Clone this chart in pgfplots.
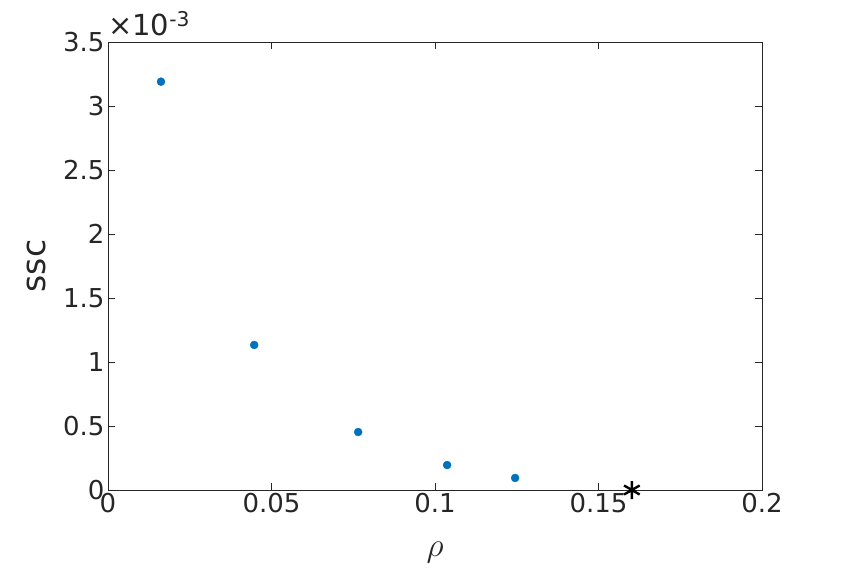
\documentclass[border=0pt]{standalone}
\usepackage{graphicx}
\usepackage{pgfplots}
\pgfplotsset{compat=1.18}
\usepackage{fontspec}
\setmainfont{DejaVu Sans}
\definecolor{mblue}{RGB}{0,114,189}
\definecolor{mgray}{RGB}{38,38,38}
\begin{document}
\begin{tikzpicture}[x=1pt,y=1pt]
\begin{axis}[
  scale only axis,
  width=654pt, height=448pt,
  xmin=0, xmax=0.2, ymin=0, ymax=3.5,
  xtick={0,0.05,0.1,0.15,0.2},
  xticklabels={0,0.05,0.1,0.15,0.2},
  ytick={0,0.5,1,1.5,2,2.5,3,3.5},
  yticklabels={0,0.5,1,1.5,2,2.5,3,3.5},
  tick align=inside,
  major tick length=7pt,
  axis line style={mgray, line width=0.6pt},
  every tick/.style={mgray, line width=0.6pt},
  tick label style={font=\fontsize{26}{30}\selectfont, text=mgray},
  xlabel={\scalebox{1.35}{$\rho$}},
  ylabel={ssc},
  label style={font=\fontsize{33}{36}\selectfont, text=mgray},
  xlabel style={at={(rel axis cs:0.5,0)}, anchor=center, yshift=-63pt},
  ylabel style={at={(rel axis cs:0,0.5)}, anchor=center, yshift=72pt},
  /pgf/number format/assume math mode=true,
  clip=false,
]
\addplot[only marks, mark=*, mark size=4pt, color=mblue] coordinates {
  (0.0162,3.19) (0.0447,1.133) (0.0765,0.453) (0.1037,0.195) (0.1245,0.094)
};
\addplot[only marks, mark=asterisk, mark size=9pt, line width=2.4pt, color=black] coordinates {
  (0.1602,0)
};
\node[anchor=south west, inner sep=0pt, text=mgray, font=\fontsize{29}{32}\selectfont] at (rel axis cs:0,1) [yshift=6pt] {×10\textsuperscript{-3}};
\end{axis}
\path[use as bounding box] (current axis.south west) ++(-108,-80) rectangle ++(842,570);
\end{tikzpicture}
\end{document}
